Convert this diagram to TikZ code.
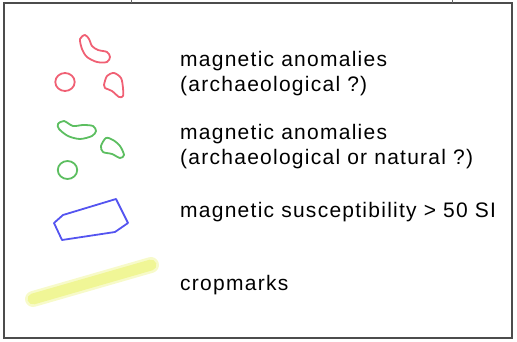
\documentclass[tikz,border=0pt]{standalone}
\usepackage{fontspec}
\setmainfont{Liberation Sans}[LetterSpace=6]
\definecolor{anomred}{RGB}{240,96,116}
\definecolor{anomgreen}{RGB}{92,190,96}
\definecolor{suscblue}{RGB}{84,84,240}
\definecolor{cropyellow}{RGB}{240,246,150}
\begin{document}
\begin{tikzpicture}[x=1pt,y=-1pt,
  every node/.style={font=\fontsize{21}{25}\selectfont,inner sep=0pt,anchor=base west,align=left},
  outline/.style={line width=1.8pt,line join=round}]
\useasboundingbox (0,0) rectangle (517,342);
% frame
\draw[line width=1.5pt,black!70] (4,3) rectangle (512,338);
\draw[black!60] (131,0) -- (131,3) (452,0) -- (452,3);
% red: archaeological
\draw[outline,anomred] plot[smooth cycle] coordinates {(80,39) (82,49) (87,57) (97,62) (107,62) (110,57) (107,52) (98,50) (92,46) (89,39) (85,35)};
\draw[outline,anomred] (65,82) circle[x radius=9.7pt,y radius=9pt];
\draw[outline,anomred] plot[smooth cycle] coordinates {(104,85) (107,76) (114,73) (121,78) (123,88) (123,96) (119,97) (112,91) (105,88)};
\node (anomArch) at (180,92) {magnetic anomalies\\(archaeological ?)};
% green: archaeological or natural
\draw[outline,anomgreen] plot[smooth cycle] coordinates {(58,124) (64,121) (73,126) (83,125) (93,126) (96,131) (92,136) (80,139) (68,136) (59,129)};
\draw[outline,anomgreen] plot[smooth cycle] coordinates {(101,146) (106,138) (113,140) (120,146) (124,155) (120,158) (112,154) (103,152)};
\draw[outline,anomgreen] (67.5,170) circle[x radius=9.7pt,y radius=9pt];
\node (anomNat) at (180,165) {magnetic anomalies\\(archaeological or natural ?)};
% blue: susceptibility
\draw[outline,suscblue] (63,215) -- (116,199) -- (128,223) -- (115,232) -- (62,240) -- (54,223) -- cycle;
\node (suscept) at (180,217) {magnetic susceptibility > 50 SI};
% yellow: cropmarks
\draw[cropyellow,opacity=0.5,line width=16pt,line cap=round] (33,299) -- (151,265);
\draw[cropyellow,line width=11pt,line cap=round] (33,299) -- (151,265);
\node (crop) at (180,290) {cropmarks};
\end{tikzpicture}
\end{document}
